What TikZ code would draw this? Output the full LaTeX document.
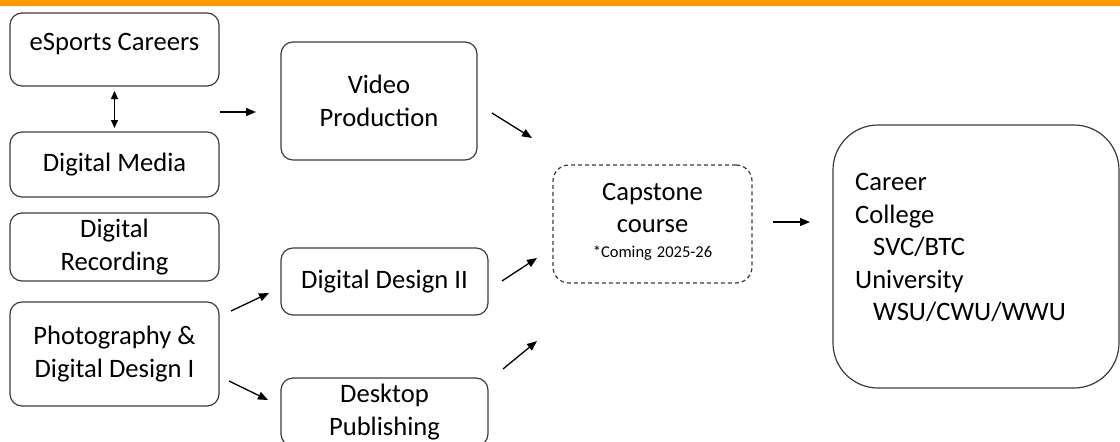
\documentclass[tikz,border=0pt]{standalone}
\usepackage{fontspec}
\setmainfont{Carlito}
\usetikzlibrary{arrows.meta,calc}
\definecolor{barorange}{RGB}{255,153,0}
\definecolor{edgegray}{RGB}{60,60,60}
\begin{document}
\begin{tikzpicture}[x=1pt,y=-1pt,
  box/.style={draw=edgegray, line width=1.2pt, rounded corners=12pt, inner sep=0pt, align=center, font=\fontsize{26.6}{32.5}\selectfont},
  txt/.style={inner sep=0pt, font=\fontsize{26.6}{32.5}\selectfont},
  arr/.style={-{Triangle[length=10pt,width=8pt]}, line width=1.3pt, black},
  dblarr/.style={{Triangle[length=8pt,width=7pt]}-{Triangle[length=8pt,width=7pt]}, line width=1.3pt, black}]
\useasboundingbox (0,0) rectangle (1120,442);
\fill[barorange] (0,0) rectangle (1120,6);

% left column
\node[box, minimum width=209pt, minimum height=73pt] (esports) at (114.5,49.5) {};
\node[txt] (esportst) at (114.5,44) {eSports Careers};
\node[box, minimum width=209pt, minimum height=65pt] (media) at (114.5,164.5) {Digital Media};
\node[box, minimum width=209pt, minimum height=68pt] (recording) at (114.5,247) {Digital\\Recording};
\node[box, minimum width=209pt, minimum height=104pt] (photo) at (114.5,354) {Photography \&\\Digital Design I};

% middle column
\node[box, minimum width=196pt, minimum height=118pt] (video) at (379,101) {Video\\Production};
\node[box, minimum width=207pt, minimum height=67pt] (dd2) at (384.5,281.5) {Digital Design II};
\node[box, minimum width=207pt, minimum height=68pt] (dtp) at (384.5,412) {Desktop\\Publishing};

% capstone
\node[box, dashed, dash pattern=on 4pt off 3pt, rounded corners=16pt, minimum width=199pt, minimum height=118pt] (cap) at (652.5,224) {};
\node[txt, text width=190pt, align=center, anchor=base] (capt) at (652.5,200) {Capstone\\course\\[-8pt]{\fontsize{16.5}{20}\selectfont\spaceskip=0pt\xspaceskip=0pt *Coming 2025-26}};

% outcomes
\node[box, rounded corners=45pt, minimum width=286pt, minimum height=263pt] (out) at (976,256.5) {};
\node[txt, text width=250pt, align=left, anchor=base west] (outt) at (855,190.5) {Career\\College\\\hspace*{18pt}SVC/BTC\\University\\\hspace*{18pt}WSU/CWU/WWU};

% connectors
\coordinate (a1s) at (114.5,91);  \coordinate (a1e) at (114.5,128);
\coordinate (a2s) at (220,112);   \coordinate (a2e) at (256,112);
\coordinate (a3s) at (492,113);   \coordinate (a3e) at (532,138);
\coordinate (a4s) at (231,311);   \coordinate (a4e) at (269,293);
\coordinate (a5s) at (229,381);   \coordinate (a5e) at (268,400);
\coordinate (a6s) at (502,281);   \coordinate (a6e) at (537,258);
\coordinate (a7s) at (503,369);   \coordinate (a7e) at (537,341);
\coordinate (a8s) at (773,222);   \coordinate (a8e) at (810,222);

\draw[dblarr] (a1s) -- (a1e);
\draw[arr] (a2s) -- (a2e);
\draw[arr] (a3s) -- (a3e);
\draw[arr] (a4s) -- (a4e);
\draw[arr] (a5s) -- (a5e);
\draw[arr] (a6s) -- (a6e);
\draw[arr] (a7s) -- (a7e);
\draw[arr] (a8s) -- (a8e);
\end{tikzpicture}
\end{document}
